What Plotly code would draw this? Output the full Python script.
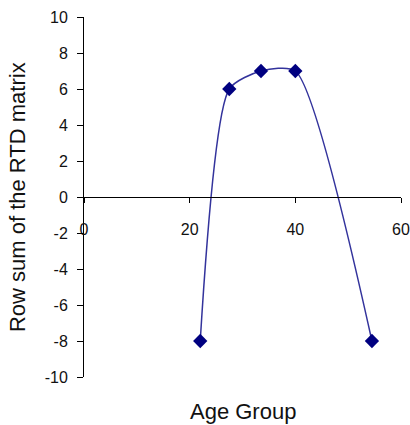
import plotly.graph_objects as go

age_group = [22, 27.5, 33.5, 40, 54.5]
row_sum = [-8, 6, 7, 7, -8]
x_ticks = [0, 20, 40, 60]
y_ticks = [-10, -8, -6, -4, -2, 0, 2, 4, 6, 8, 10]

tick_font = dict(family="Liberation Sans, Arial, sans-serif", size=16, color="#111111")
title_font = dict(family="Liberation Sans, Arial, sans-serif", size=22, color="#111111")

fig = go.Figure()
fig.add_trace(go.Scatter(
    x=age_group, y=row_sum, mode="lines+markers",
    line=dict(shape="spline", smoothing=0.65, color="#33339c", width=1.5),
    marker=dict(symbol="diamond", size=11, color="#000080"),
    showlegend=False,
))

fig.update_layout(
    width=410, height=425,
    margin=dict(l=84, r=9, t=17, b=48, autoexpand=False),
    plot_bgcolor="white", paper_bgcolor="white",
    font=tick_font,
    xaxis=dict(range=[0, 60], tickvals=x_ticks, ticktext=[str(v) for v in x_ticks],
               anchor="free", position=0.5, showline=True, linecolor="black", linewidth=1,
               ticks="outside", ticklen=5, tickcolor="black", showgrid=False, zeroline=False,
               ticklabelstandoff=13, tickfont=tick_font, automargin=False),
    yaxis=dict(range=[-10, 10], tickvals=y_ticks,
               ticktext=[str(v) for v in y_ticks],
               showline=True, linecolor="black", linewidth=1,
               ticks="outside", ticklen=6, tickcolor="black", showgrid=False, zeroline=False,
               ticklabelstandoff=6, tickfont=tick_font, automargin=False),
    annotations=[
        dict(text="Age Group", xref="paper", yref="paper", x=0.50, y=-0.097,
             xanchor="center", yanchor="middle", showarrow=False, font=title_font),
        dict(text="Row sum of the RTD matrix", xref="paper", yref="paper", x=-0.211, y=0.5,
             xanchor="center", yanchor="middle", textangle=-90, showarrow=False, font=title_font),
    ],
)

fig.write_html("out.html", config={"displayModeBar": False},
               post_script="document.body.style.margin='0';")
